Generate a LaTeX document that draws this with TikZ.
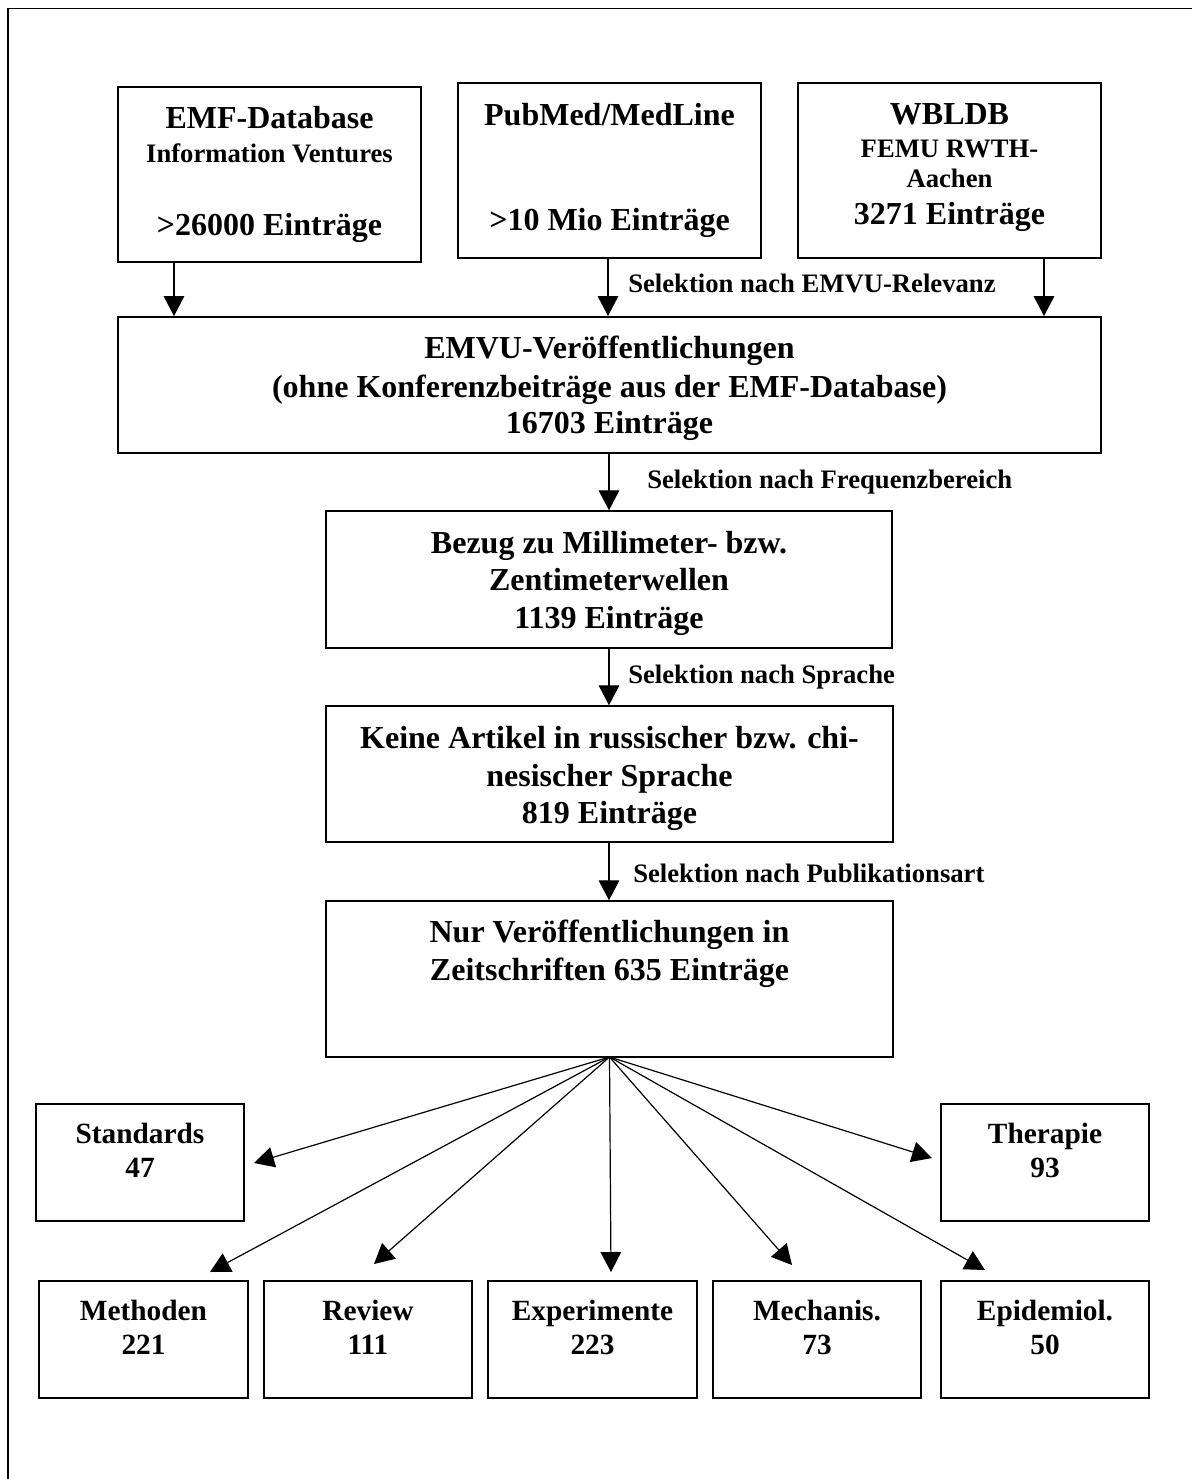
\documentclass[tikz,border=0pt]{standalone}
\usepackage{fontspec}
\setmainfont{Liberation Serif}
\usetikzlibrary{arrows.meta}
\begin{document}
\begin{tikzpicture}[x=0.75pt,y=-0.75pt,
 bx/.style n args={2}{draw, line width=1.1pt, inner sep=0pt, minimum width={#1*0.75pt}, minimum height={#2*0.75pt}},
 arr/.style={line width=0.9pt, -{Triangle[length=15pt,width=15.5pt]}},
 big/.style={anchor=base, inner sep=0pt, font=\fontsize{24pt}{29pt}\selectfont\bfseries},
 mid/.style={anchor=base, inner sep=0pt, font=\fontsize{20pt}{24pt}\selectfont\bfseries},
 sml/.style={anchor=base, inner sep=0pt, font=\fontsize{22pt}{26pt}\selectfont\bfseries},
 lab/.style={anchor=base west, inner sep=0pt, font=\fontsize{20pt}{24pt}\selectfont\bfseries},
]
\useasboundingbox (0,0) rectangle (1192,1479);
\draw[line width=1.1pt] (8,1479) -- (8,8.7) -- (1192,8.7);

% top boxes
\node[bx={303}{175}] (emf) at (269.5,174.5) {};
\node[bx={303}{175}] (pub) at (609.5,170.5) {};
\node[bx={303}{175}] (wbl) at (949.5,170.5) {};
\node[big] (emf1) at (269.5,128) {EMF-Database};
\node[mid] (emf2) at (269.5,162) {Information Ventures};
\node[big] (emf3) at (269.5,235) {>26000 Einträge};
\node[big] (pub1) at (609.5,125) {PubMed/MedLine};
\node[big] (pub2) at (609.5,230) {>10 Mio Einträge};
\node[big] (wbl1) at (949.5,124) {WBLDB};
\node[mid] (wbl2) at (949.5,157) {FEMU RWTH-};
\node[mid] (wbl3) at (949.5,187) {Aachen};
\node[big] (wbl4) at (949.5,224) {3271 Einträge};

% main chain
\node[bx={983}{136}, line width=1.5pt] (emvu) at (609.5,385) {};
\node[big] (emvu1) at (609.5,358) {EMVU-Veröffentlichungen};
\node[big] (emvu2) at (609.5,397) {(ohne Konferenzbeiträge aus der EMF-Database)};
\node[big] (emvu3) at (609.5,433) {16703 Einträge};

\node[bx={566}{137}] (bez) at (609,579.5) {};
\node[big] (bez1) at (609,553) {Bezug zu Millimeter- bzw.};
\node[big] (bez2) at (609,590) {Zentimeterwellen};
\node[big] (bez3) at (609,628) {1139 Einträge};

\node[bx={567}{136}] (kei) at (609.5,774) {};
\node[big] (kei1) at (609.5,748) {Keine Artikel in russischer bzw. chi-};
\node[big] (kei2) at (609.5,786) {nesischer Sprache};
\node[big] (kei3) at (609.5,823) {819 Einträge};

\node[bx={567}{156}] (nur) at (609.5,979) {};
\node[big] (nur1) at (609.5,942) {Nur Veröffentlichungen in};
\node[big] (nur2) at (609.5,980) {Zeitschriften 635 Einträge};

% labels
\node[lab] (l1) at (628,292) {Selektion nach EMVU-Relevanz};
\node[lab] (l2) at (647,488) {Selektion nach Frequenzbereich};
\node[lab] (l3) at (628,683) {Selektion nach Sprache};
\node[lab] (l4) at (633,882) {Selektion nach Publikationsart};

% arrows top
\coordinate (xa) at (174,0);
\coordinate (xb) at (608,0);
\coordinate (xc) at (1044,0);
\coordinate (xm) at (609,0);
\draw[arr] (emf.south -| xa) -- (emvu.north -| xa);
\draw[arr] (pub.south -| xb) -- (emvu.north -| xb);
\draw[arr] (wbl.south -| xc) -- (emvu.north -| xc);
\draw[arr] (emvu.south -| xm) -- (bez.north -| xm);
\draw[arr] (bez.south -| xm) -- (kei.north -| xm);
\draw[arr] (kei.south -| xm) -- (nur.north -| xm);

% bottom boxes
\node[bx={208}{117}] (std) at (140,1162.5) {};
\node[sml] (std1) at (140,1143) {Standards};
\node[sml] (std2) at (140,1177) {47};
\node[bx={208}{117}] (the) at (1045,1162.5) {};
\node[sml] (the1) at (1045,1143) {Therapie};
\node[sml] (the2) at (1045,1177) {93};
\node[bx={209}{117}] (met) at (143.5,1339.5) {};
\node[sml] (met1) at (143.5,1320) {Methoden};
\node[sml] (met2) at (143.5,1354) {221};
\node[bx={208}{117}] (rev) at (368,1339.5) {};
\node[sml] (rev1) at (368,1320) {Review};
\node[sml] (rev2) at (368,1354) {111};
\node[bx={209}{117}] (exp) at (592.5,1339.5) {};
\node[sml] (exp1) at (592.5,1320) {Experimente};
\node[sml] (exp2) at (592.5,1354) {223};
\node[bx={208}{117}] (mec) at (817,1339.5) {};
\node[sml] (mec1) at (817,1320) {Mechanis.};
\node[sml] (mec2) at (817,1354) {73};
\node[bx={208}{117}] (epi) at (1045,1339.5) {};
\node[sml] (epi1) at (1045,1320) {Epidemiol.};
\node[sml] (epi2) at (1045,1354) {50};

% fan arrows
\coordinate (o) at (609.5,1057);
\coordinate (tstd) at (254,1163);
\coordinate (tmet) at (210,1272);
\coordinate (trev) at (374,1264);
\coordinate (texp) at (611,1272);
\coordinate (tmec) at (792,1265);
\coordinate (tepi) at (985,1270);
\coordinate (tthe) at (932,1158);
\draw[arr] (o) -- (tstd);
\draw[arr] (o) -- (tmet);
\draw[arr] (o) -- (trev);
\draw[arr] (o) -- (texp);
\draw[arr] (o) -- (tmec);
\draw[arr] (o) -- (tepi);
\draw[arr] (o) -- (tthe);
\end{tikzpicture}
\end{document}
